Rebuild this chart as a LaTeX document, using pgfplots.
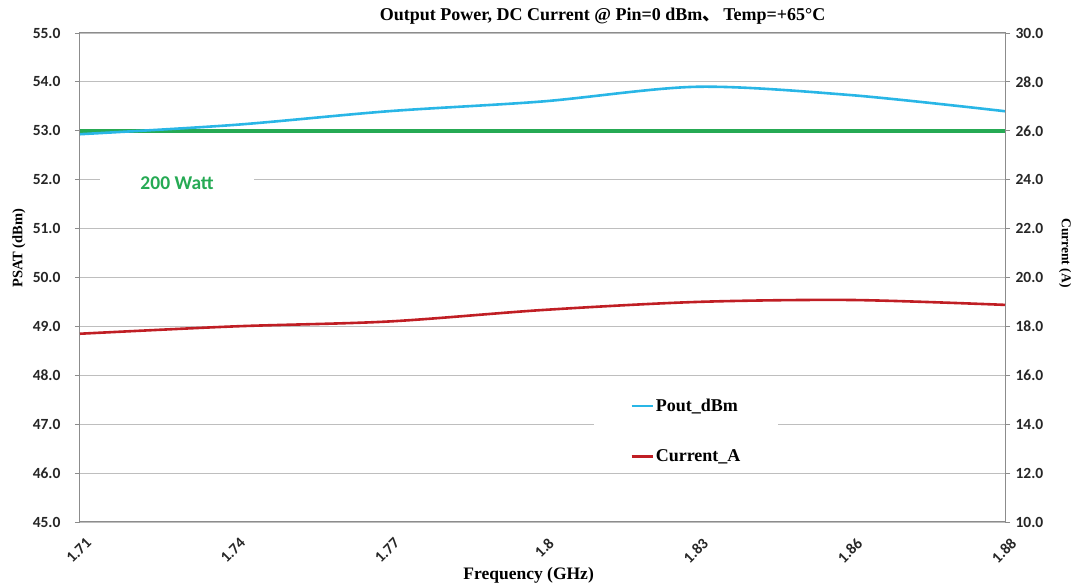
\documentclass[border=0pt]{standalone}
\usepackage{fontspec}
\setmainfont{Liberation Serif}
\newfontfamily\carlito{Carlito}
\newfontfamily\cjk{Noto Sans CJK SC}
\usepackage{pgfplots}
\pgfplotsset{compat=1.18}
\definecolor{cblue}{RGB}{41,182,230}
\definecolor{cred}{RGB}{192,30,36}
\definecolor{cgreen}{RGB}{38,170,84}
\definecolor{cgrid}{RGB}{190,190,190}
\definecolor{caxis}{RGB}{140,140,140}
\begin{document}
\begin{tikzpicture}
\begin{axis}[
  scale only axis, width=925pt, height=489pt,
  xmin=0, xmax=6, ymin=45, ymax=55,
  xtick={0,...,6}, xticklabels={1.71,1.74,1.77,1.8,1.83,1.86,1.88},
  ytick={45,46,...,55},
  yticklabels={45.0,46.0,47.0,48.0,49.0,50.0,51.0,52.0,53.0,54.0,55.0},
  ytick pos=left, xtick pos=bottom,
  tick align=outside, major tick length=5pt,
  xtick style={draw=none},
  ytick style={caxis, line width=0.8pt},
  axis line style={caxis, line width=1pt},
  ymajorgrids, major grid style={cgrid, line width=0.9pt},
  ticklabel style={font=\carlito\bfseries\fontsize{15.5}{15.5}\selectfont, text=black!85},
  yticklabel style={xshift=-11pt},
  xticklabel style={rotate=45, anchor=north east, xshift=0pt, yshift=-7pt},
  ylabel={PSAT (dBm)},
  ylabel style={at={(axis description cs:-0.066,0.56)}, anchor=center, rotate=0, font=\bfseries\fontsize{14.5}{14.5}\selectfont},
  xlabel={Frequency (GHz)},
  xlabel style={at={(axis description cs:0.485,-0.110)}, anchor=center, font=\bfseries\fontsize{17.5}{17.5}\selectfont},
  title={Output Power, DC Current @ Pin=0 dBm{\cjk 、}\,Temp=+65°C},
  title style={at={(axis description cs:0.565,1.022)}, anchor=center, font=\bfseries\fontsize{18}{18}\selectfont},
  legend style={at={(axis description cs:0.6555,0.186)}, anchor=center, draw=none, fill=white,
    font=\bfseries\fontsize{18}{18}\selectfont, row sep=33pt, inner xsep=36pt, inner ysep=2pt,
    /tikz/every odd column/.append style={column sep=0pt}},
  legend cell align=left,
  legend image code/.code={\draw[#1] (0pt,0pt) -- (21pt,0pt);},
]
\addplot[cgreen, line width=4pt, forget plot] coordinates {(0,53.0) (6,53.0)};
\addplot[cblue, line width=2.6pt, smooth] coordinates {
(0,52.93) (1,53.12) (2,53.40) (3,53.60) (4,53.90) (5,53.73) (6,53.40)};
\addlegendentry{Pout\_dBm}
\addlegendimage{cred, line width=2.6pt}
\addlegendentry{Current\_A}
\node[fill=white, inner xsep=40pt, inner ysep=3pt, text=cgreen, font=\carlito\bfseries\fontsize{19.5}{19.5}\selectfont]
  at (axis cs:0.63,51.93) {200 Watt};
\end{axis}
\begin{axis}[
  scale only axis, width=925pt, height=489pt,
  xmin=0, xmax=6, ymin=10, ymax=30,
  axis x line=none, axis y line*=right,
  ytick={10,12,...,30},
  yticklabels={10.0,12.0,14.0,16.0,18.0,20.0,22.0,24.0,26.0,28.0,30.0},
  tick align=outside, major tick length=5pt,
  ytick style={caxis, line width=0.8pt},
  axis line style={caxis, line width=1pt},
  ticklabel style={font=\carlito\bfseries\fontsize{15.5}{15.5}\selectfont, text=black!85},
  yticklabel style={xshift=2pt},
  ylabel={Current (A)},
  ylabel style={at={(axis description cs:1.065,0.55)}, anchor=center, rotate=180, font=\bfseries\fontsize{13.5}{13.5}\selectfont},
]
\addplot[cred, line width=2.6pt, smooth] coordinates {
(0,17.70) (1,18.00) (2,18.20) (3,18.67) (4,19.00) (5,19.08) (6,18.88)};
\end{axis}
\pgfresetboundingbox
\path[use as bounding box] (-80pt,-66pt) rectangle (997pt,522pt);
\end{tikzpicture}
\end{document}
